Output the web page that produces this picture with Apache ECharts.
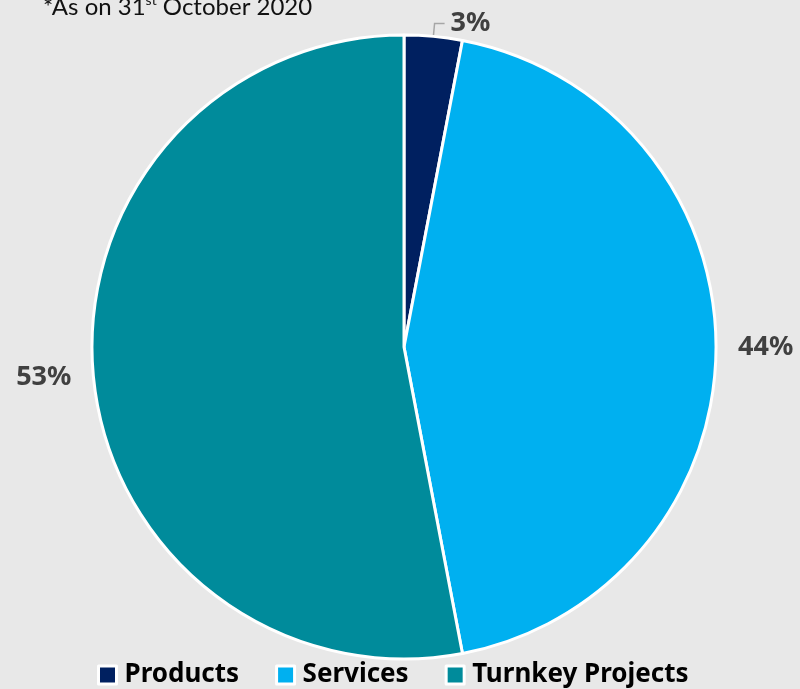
<!DOCTYPE html>
<html><head><meta charset="utf-8">
<script src="https://cdn.jsdelivr.net/npm/echarts@6/dist/echarts.min.js"></script>
<style>html,body{margin:0;padding:0;background:#e8e8e8}#c{width:800px;height:689px}</style>
</head><body><div id="c"></div>
<script>
const categories = ['Products', 'Services', 'Turnkey Projects'];
const values = [3, 44, 53];
const colors = ['#002060', '#00b0f0', '#008b9b'];

const chart = echarts.init(document.getElementById('c'));
chart.setOption({
  backgroundColor: '#e8e8e8',
  animation: false,
  title: {
    text: '{a|*As on 31}{s|st}{a| October 2020}',
    left: 38, top: -12,
    textStyle: {
      fontWeight: 'normal',
      rich: {
        a: { fontFamily: 'Lato', fontWeight: 'normal', fontSize: 24, color: '#111', lineHeight: 28 },
        s: { fontFamily: 'Lato', fontWeight: 'normal', fontSize: 14, color: '#111', lineHeight: 28, verticalAlign: 'top', padding: [0, 0, 12, 0] }
      }
    }
  },
  legend: {
    top: 657, left: 92,
    itemWidth: 18, itemHeight: 18, itemGap: 36,
    icon: 'rect',
    itemStyle: { borderColor: '#fff', borderWidth: 3 },
    textStyle: { fontFamily: 'Noto Sans', fontWeight: 'bold', fontSize: 26, color: '#000', padding: [0, 0, 0, 3] },
    data: categories
  },
  series: [{
    type: 'pie',
    center: [404, 347],
    radius: 312,
    startAngle: 90,
    clockwise: true,
    avoidLabelOverlap: false,
    itemStyle: { borderColor: '#fff', borderWidth: 3 },
    label: {
      show: true, position: 'outside',
      formatter: '{c}%',
      fontFamily: 'Noto Sans', fontWeight: 'bold', fontSize: 27, color: '#404040',
      distanceToLabelLine: 6
    },
    labelLine: { show: true, length: 10, length2: 12, lineStyle: { color: '#a6a6a6', width: 1.5 } },
    data: categories.map((n, i) => ({
      name: n, value: values[i],
      itemStyle: { color: colors[i] },
      labelLine: i === 0 ? { show: true, length: 13, length2: 10 } : { show: false, length: 8, length2: 8 }
    }))
  }]
});
</script></body></html>
